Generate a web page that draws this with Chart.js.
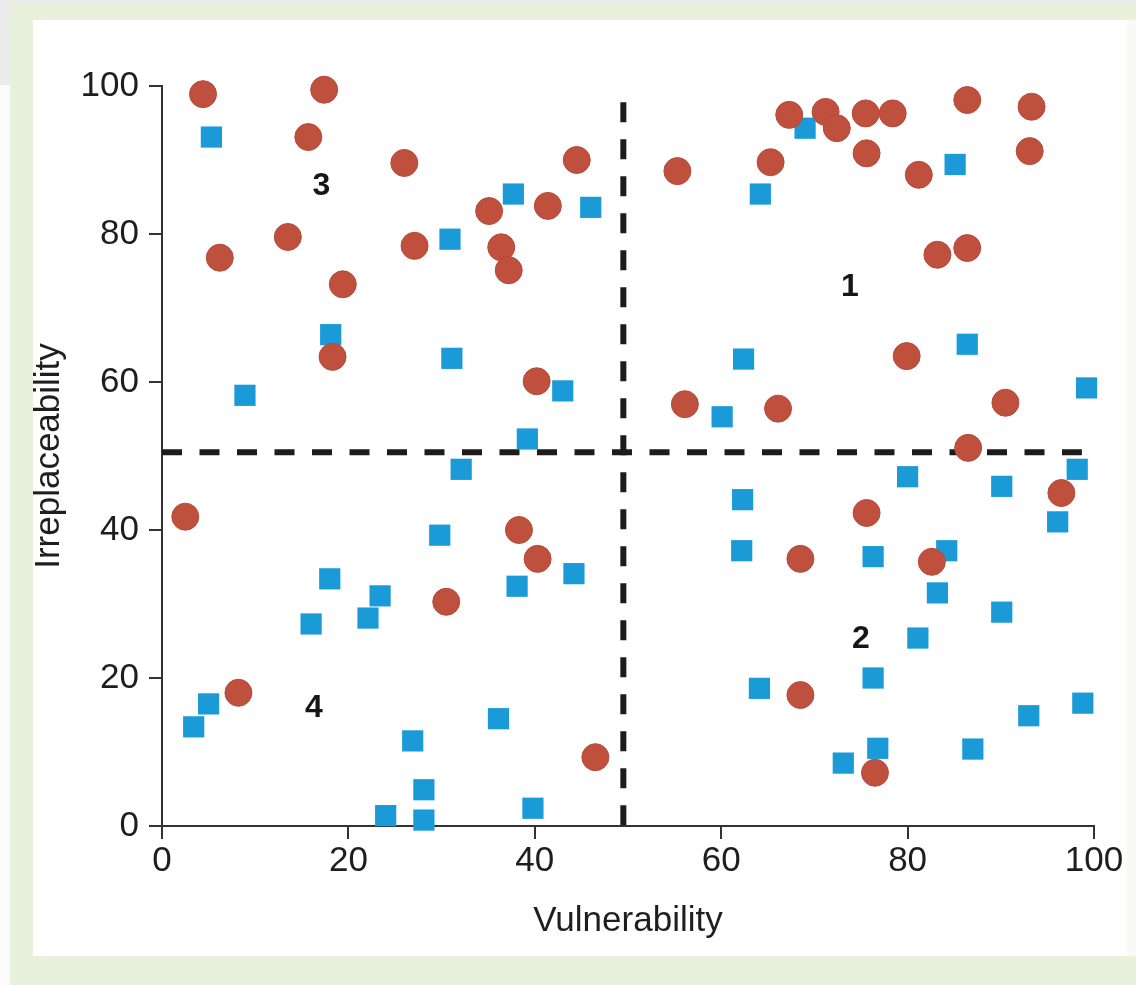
<!DOCTYPE html>
<html>
<head>
<meta charset="utf-8">
<script src="https://cdn.jsdelivr.net/npm/chart.js@4.4.1/dist/chart.umd.min.js"></script>
<style>
  html, body { margin: 0; padding: 0; }
  body { width: 1136px; height: 985px; position: relative; background: #fbfbfb; overflow: hidden; }
  .bg { position: absolute; }
  #gray1 { left: 0; top: 0; width: 1136px; height: 4px; background: #ececec; }
  #gray2 { left: 0; top: 0; width: 10px; height: 85px; background: #ececec; }
  #green { left: 10px; top: 4px; width: 1126px; height: 981px; background: #e8f1dc; }
  #rightstrip { left: 1127px; top: 20px; width: 9px; height: 936px; background: #f9f9f7; }
  #panel { left: 33px; top: 20px; width: 1094px; height: 936px; background: #ffffff; }
  canvas { position: absolute; left: 0; top: 0; }
</style>
</head>
<body>
<div class="bg" id="gray1"></div>
<div class="bg" id="gray2"></div>
<div class="bg" id="green"></div>
<div class="bg" id="rightstrip"></div>
<div class="bg" id="panel"></div>
<canvas id="c" width="1136" height="985"></canvas>
<script>
// ---- data ----
const redX = [4.4, 17.4, 15.7, 26.0, 44.5, 35.1, 41.4, 27.1, 36.4, 37.2, 13.5, 6.2, 19.4, 18.3, 40.2, 2.5, 38.3, 40.3, 30.5, 8.2, 46.5,
              55.3, 65.3, 67.3, 71.2, 72.4, 75.5, 78.4, 75.6, 86.4, 93.3, 93.1, 81.2, 83.2, 86.4, 79.9, 66.1, 90.5, 86.5, 56.1, 96.5, 75.6, 68.5, 82.6, 68.5, 76.5];
const redY = [98.9, 99.5, 93.1, 89.6, 90.0, 83.1, 83.8, 78.4, 78.2, 75.1, 79.6, 76.8, 73.2, 63.4, 60.1, 41.8, 40.0, 36.1, 30.3, 18.0, 9.3,
              88.5, 89.7, 96.1, 96.5, 94.3, 96.3, 96.3, 90.9, 98.1, 97.2, 91.2, 88.0, 77.2, 78.1, 63.5, 56.4, 57.2, 51.1, 57.0, 45.0, 42.3, 36.1, 35.7, 17.7, 7.2];
const blueX = [5.3, 37.7, 46.0, 30.9, 18.1, 8.9, 31.1, 43.0, 39.2, 32.1, 29.8, 44.2, 38.1, 18.0, 23.4, 22.1, 16.0, 5.0, 3.4, 36.1, 26.9, 28.1, 28.1, 24.0, 39.8,
               69.0, 85.1, 64.2, 86.4, 62.4, 60.1, 99.2, 62.3, 62.2, 80.0, 90.1, 98.2, 96.1, 76.3, 84.2, 83.2, 90.1, 81.1, 76.3, 64.1, 98.8, 93.0, 87.0, 76.8, 73.1];
const blueY = [93.1, 85.4, 83.6, 79.3, 66.4, 58.2, 63.2, 58.8, 52.3, 48.2, 39.3, 34.1, 32.4, 33.4, 31.1, 28.1, 27.3, 16.5, 13.4, 14.5, 11.5, 4.9, 0.8, 1.4, 2.4,
               94.3, 89.4, 85.4, 65.1, 63.1, 55.3, 59.2, 44.1, 37.2, 47.2, 45.9, 48.2, 41.1, 36.4, 37.2, 31.5, 28.9, 25.4, 20.0, 18.6, 16.6, 14.9, 10.4, 10.5, 8.5];
// threshold lines (data coordinates)
const vLineX = [49.5, 49.5];
const vLineY = [97.8, 0];
const hLineX = [0, 98.7];
const hLineY = [50.5, 50.5];
// quadrant labels
const quadText = ['1', '2', '3', '4'];
const quadX = [73.8, 75.0, 17.1, 16.3];
const quadY = [72.8, 25.3, 86.5, 15.9];
const tickValues = [0, 20, 40, 60, 80, 100];
const xTitle = 'Vulnerability';
const yTitle = 'Irreplaceability';

const toPts = (xs, ys) => xs.map((x, i) => ({ x: x, y: ys[i] }));

const FONT = '"Liberation Sans", Arial, Helvetica, sans-serif';

const quadPlugin = {
  id: 'quadLabels',
  afterDatasetsDraw(chart) {
    const { ctx, scales: { x, y } } = chart;
    ctx.save();
    ctx.font = 'bold 32px ' + FONT;
    ctx.fillStyle = '#161616';
    ctx.textAlign = 'center';
    ctx.textBaseline = 'middle';
    quadText.forEach((t, i) => {
      ctx.fillText(t, x.getPixelForValue(quadX[i]), y.getPixelForValue(quadY[i]));
    });
    ctx.restore();
  }
};

new Chart(document.getElementById('c'), {
  type: 'scatter',
  data: {
    datasets: [
      {
        label: 'red', data: toPts(redX, redY), order: 0,
        pointStyle: 'circle', pointRadius: 13.5, pointHoverRadius: 13.5,
        backgroundColor: '#c0503e', borderColor: '#b64a39', borderWidth: 1, clip: false
      },
      {
        label: 'blue', data: toPts(blueX, blueY), order: 1,
        pointStyle: 'rect', pointRadius: 15, pointHoverRadius: 15,
        backgroundColor: '#1a9bd8', borderColor: '#1a9bd8', borderWidth: 0, clip: false
      },
      {
        label: 'v', type: 'line', data: toPts(vLineX, vLineY), order: 2,
        showLine: true, pointRadius: 0, borderColor: '#1c1c1c', borderWidth: 6,
        borderDash: [20, 17], borderCapStyle: 'butt', fill: false, clip: false
      },
      {
        label: 'h', type: 'line', data: toPts(hLineX, hLineY), order: 2,
        showLine: true, pointRadius: 0, borderColor: '#1c1c1c', borderWidth: 6,
        borderDash: [20, 17.5], borderCapStyle: 'butt', fill: false, clip: false
      }
    ]
  },
  options: {
    responsive: false,
    animation: false,
    devicePixelRatio: 1,
    events: [],
    layout: { padding: { left: 0, top: 86, right: 42, bottom: 0 } },
    plugins: { legend: { display: false }, tooltip: { enabled: false } },
    scales: {
      x: {
        type: 'linear', min: 0, max: 100,
        afterBuildTicks: (s) => { s.ticks = tickValues.map(v => ({ value: v })); },
        afterFit: (s) => { s.height = 159; },
        grid: { drawOnChartArea: false, drawTicks: true, tickLength: 13, color: '#333', lineWidth: 2 },
        border: { display: true, color: '#333', width: 2 },
        ticks: { padding: 1, color: '#1e1e1e', font: { family: FONT, size: 35 }, maxRotation: 0 },
        title: { display: true, text: xTitle, color: '#1e1e1e', font: { family: FONT, size: 35 }, padding: { top: 0, bottom: 43 } }
      },
      y: {
        type: 'linear', min: 0, max: 100,
        afterBuildTicks: (s) => { s.ticks = tickValues.map(v => ({ value: v })); },
        afterFit: (s) => { s.width = 162; },
        grid: { drawOnChartArea: false, drawTicks: true, tickLength: 13, color: '#333', lineWidth: 2 },
        border: { display: true, color: '#333', width: 2 },
        ticks: { padding: 10, color: '#1e1e1e', font: { family: FONT, size: 35 } },
        title: { display: true, text: yTitle, color: '#1e1e1e', font: { family: FONT, size: 35 }, padding: { top: 28, bottom: 0 } }
      }
    }
  },
  plugins: [quadPlugin]
});
</script>
</body>
</html>
